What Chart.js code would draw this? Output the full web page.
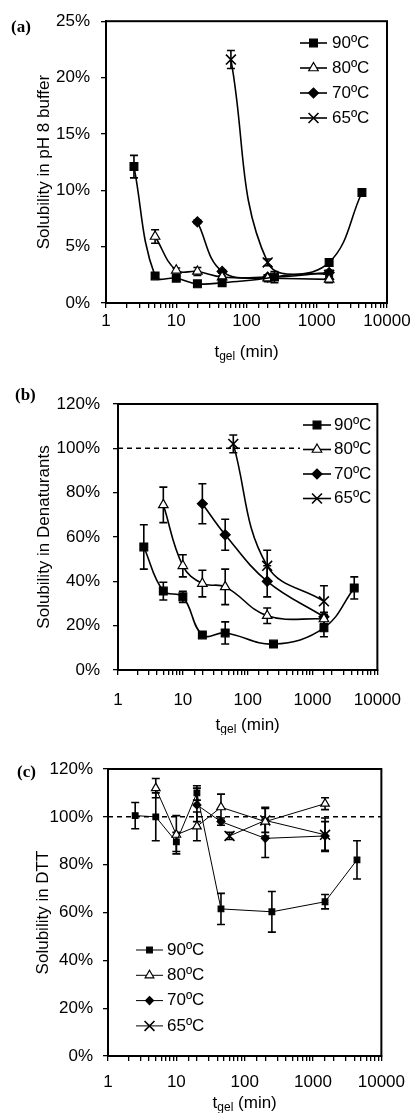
<!DOCTYPE html>
<html><head><meta charset="utf-8">
<script src="https://cdn.jsdelivr.net/npm/chart.js@4/dist/chart.umd.min.js"></script>
<style>
html,body{margin:0;padding:0;background:#fff;width:416px;height:1113px;overflow:hidden;}
.p{position:absolute;left:0;width:416px;}
canvas{display:block;}
</style></head><body>
<div class="p" style="top:0"><canvas id="ca" width="416" height="365"></canvas></div>
<div class="p" style="top:365px"><canvas id="cb" width="416" height="370"></canvas></div>
<div class="p" style="top:735px"><canvas id="cc" width="416" height="378"></canvas></div>
<script>
// ---------- DATA ----------
const seriesLabels = ['90ºC', '80ºC', '70ºC', '65ºC'];
const xTickLabels = [1, 10, 100, 1000, 10000];
const yTicksA = [0, 5, 10, 15, 20, 25];
const yTicksBC = [0, 20, 40, 60, 80, 100, 120];

// Panel (a): solubility in pH 8 buffer (%)
const a_t90 = [2.5, 5, 10, 20, 45, 250, 1500, 4400];
const a_s90 = [12.1, 2.4, 2.2, 1.7, 1.8, 2.3, 3.6, 9.8];
const a_e90 = [1.0, 0.2, 0.2, 0.15, 0.15, 0.5, 0.3, 0.15];
const a_t80 = [5, 10, 20, 45, 200, 1500];
const a_s80 = [5.9, 2.9, 2.8, 2.3, 2.2, 2.1];
const a_e80 = [0.6, 0.2, 0.35, 0.1, 0.3, 0.3];
const a_t70 = [20, 45, 200, 1500];
const a_s70 = [7.2, 2.8, 2.3, 2.7];
const a_e70 = [0.15, 0.15, 0.2, 0.2];
const a_t65 = [60, 200, 1500];
const a_s65 = [21.6, 3.6, 2.5];
const a_e65 = [0.8, 0.3, 0.2];

// Panel (b): solubility in denaturants (%)
const b_t90 = [2.5, 5, 10, 20, 45, 250, 1500, 4400];
const b_s90 = [55.5, 35.6, 33, 15.8, 16.7, 11.7, 19, 37];
const b_e90 = [10, 4, 2.5, 1, 5, 1, 4, 5];
const b_t80 = [5, 10, 20, 45, 200, 1500];
const b_s80 = [74.5, 47, 39, 37.5, 24.5, 23];
const b_e80 = [8, 5, 6, 8, 3.5, 2];
const b_t70 = [20, 45, 200, 1500];
const b_s70 = [75, 61, 40, 24];
const b_e70 = [9, 7, 7, 2];
const b_t65 = [60, 200, 1500];
const b_s65 = [102, 47, 31];
const b_e65 = [4, 7, 7];

// Panel (c): solubility in DTT (%)
const c_t90 = [2.5, 5, 10, 20, 45, 250, 1500, 4400];
const c_s90 = [100.5, 100, 89.5, 110, 61.5, 60.3, 64.5, 82];
const c_e90 = [5.5, 10, 4, 3, 6.5, 8.5, 3, 8];
const c_t80 = [5, 10, 20, 45, 200, 1500];
const c_s80 = [112, 92.5, 96, 104, 98, 105.5];
const c_e80 = [4, 8, 6, 5.5, 6, 2.5];
const c_t70 = [20, 45, 200, 1500];
const c_s70 = [105, 98, 91, 92];
const c_e70 = [7, 1.5, 8, 6];
const c_t65 = [60, 200, 1500];
const c_s65 = [92, 98.5, 92.5];
const c_e65 = [1.5, 5, 7];

const refLineX = [1, 10000];
const refLineY = [100, 100];

// ---------- BUILD ----------
const FONT = "Arial, 'Liberation Sans', sans-serif";
const FS = 17;
Chart.defaults.font.family = FONT;
Chart.defaults.font.size = FS;
Chart.defaults.color = '#000';

function pts(t, s) { return t.map((x, i) => ({ x: x, y: s[i] })); }

const styles = [
  { pointStyle: 'rect', bg: '#000' },
  { pointStyle: 'triangle', bg: '#fff' },
  { pointStyle: 'rectRot', bg: '#000' },
  { pointStyle: 'crossRot', bg: '#000' }
];

function makeSets(ts, ss, es, radii, lw, tension) {
  return ts.map((t, k) => ({
    label: seriesLabels[k],
    data: pts(t, ss[k]),
    errors: es[k],
    borderColor: '#000',
    backgroundColor: styles[k].bg,
    pointBackgroundColor: styles[k].bg,
    pointBorderColor: '#000',
    pointStyle: styles[k].pointStyle,
    pointRadius: radii[k],
    pointBorderWidth: k === 3 ? 1.6 : 1.2,
    borderWidth: lw,
    tension: tension,
    fill: false,
    order: k
  }));
}

const errPlugin = {
  id: 'errbars',
  beforeDatasetsDraw(chart) {
    const ctx = chart.ctx, xs = chart.scales.x, ys = chart.scales.y;
    ctx.save();
    ctx.strokeStyle = '#000';
    ctx.lineWidth = 1.6;
    chart.data.datasets.forEach(ds => {
      if (!ds.errors) return;
      ds.data.forEach((p, i) => {
        const e = ds.errors[i];
        const x = xs.getPixelForValue(p.x);
        const y1 = ys.getPixelForValue(p.y + e), y2 = ys.getPixelForValue(p.y - e);
        ctx.beginPath();
        ctx.moveTo(x, y1); ctx.lineTo(x, y2);
        ctx.moveTo(x - 4, y1); ctx.lineTo(x + 4, y1);
        ctx.moveTo(x - 4, y2); ctx.lineTo(x + 4, y2);
        ctx.stroke();
      });
    });
    ctx.restore();
  }
};

function decorPlugin(cfg) {
  return {
    id: 'decor',
    afterDraw(chart) {
      const ctx = chart.ctx, a = chart.chartArea;
      ctx.save();
      // legend (white box behind, kept inside the plot frame)
      ctx.fillStyle = '#fff';
      const bx = cfg.legX0 - 3, bw = Math.min(cfg.legTx + 50, a.right - 1) - bx;
      ctx.fillRect(bx, cfg.legY - 11, bw, 3 * cfg.legDy + 22);
      for (let k = 0; k < 4; k++) {
        const ds = chart.data.datasets[k];
        const y = cfg.legY + k * cfg.legDy;
        ctx.strokeStyle = '#000'; ctx.lineWidth = ds.borderWidth;
        ctx.beginPath(); ctx.moveTo(cfg.legX0, y); ctx.lineTo(cfg.legX1, y); ctx.stroke();
        ctx.fillStyle = ds.pointBackgroundColor; ctx.strokeStyle = '#000';
        ctx.lineWidth = ds.pointBorderWidth;
        Chart.helpers.drawPoint(ctx, { pointStyle: ds.pointStyle, radius: ds.pointRadius, rotation: 0, borderWidth: ds.pointBorderWidth }, (cfg.legX0 + cfg.legX1) / 2, y);
        ctx.fillStyle = '#000';
        ctx.font = FS + 'px ' + FONT; ctx.textAlign = 'left'; ctx.textBaseline = 'middle';
        ctx.fillText(ds.label, cfg.legTx, y);
      }
      // box
      ctx.strokeStyle = '#000'; ctx.lineWidth = 2;
      ctx.strokeRect(a.left, a.top, a.right - a.left, a.bottom - a.top);
      // panel label
      ctx.fillStyle = '#000';
      ctx.font = "bold 17px 'Liberation Serif', 'Times New Roman', serif";
      ctx.textAlign = 'left'; ctx.textBaseline = 'middle';
      ctx.fillText(cfg.panel, cfg.panelX, cfg.panelY);
      // y title
      ctx.font = FS + 'px ' + FONT;
      ctx.save();
      ctx.translate(cfg.yTitleX, (a.top + a.bottom) / 2);
      ctx.rotate(-Math.PI / 2);
      ctx.textAlign = 'center'; ctx.textBaseline = 'middle';
      ctx.fillText(cfg.yTitle, 0, 0);
      ctx.restore();
      // x title with subscript
      const cx = (a.left + a.right) / 2, ty = cfg.xTitleY;
      ctx.font = FS + 'px ' + FONT;
      const w1 = ctx.measureText('t').width, w3 = ctx.measureText(' (min)').width;
      ctx.font = '12px ' + FONT;
      const w2 = ctx.measureText('gel').width;
      let x0 = cx - (w1 + w2 + w3) / 2;
      ctx.textAlign = 'left'; ctx.textBaseline = 'middle';
      ctx.font = FS + 'px ' + FONT; ctx.fillText('t', x0, ty);
      ctx.font = '12px ' + FONT; ctx.fillText('gel', x0 + w1, ty + 5);
      ctx.font = FS + 'px ' + FONT; ctx.fillText(' (min)', x0 + w1 + w2, ty);
      ctx.restore();
    }
  };
}

function makeChart(id, cfg) {
  const H = document.getElementById(id).height;
  const datasets = cfg.sets.slice();
  if (cfg.ref) {
    datasets.push({ data: pts(refLineX, refLineY), borderColor: '#000', borderWidth: 1.5,
      borderDash: [5, 4], pointRadius: 0, fill: false, order: 10 });
  }
  return new Chart(document.getElementById(id), {
    type: 'line',
    data: { datasets: datasets },
    options: {
      responsive: false, animation: false,
      layout: { padding: { top: cfg.plotTop, right: 416 - cfg.plotRight, left: 0, bottom: 0 } },
      plugins: { legend: { display: false }, tooltip: { enabled: false } },
      scales: {
        x: {
          type: 'logarithmic', min: xTickLabels[0], max: xTickLabels[xTickLabels.length - 1],
          grid: { drawOnChartArea: false, drawTicks: true, tickLength: 5, color: '#000', lineWidth: 1.3 },
          border: { display: true, color: '#000', width: 2 },
          ticks: {
            autoSkip: false, maxRotation: 0, padding: cfg.xPad, color: '#000', font: { size: FS },
            callback: (v) => xTickLabels.includes(Math.round(v)) && Math.abs(Math.round(v) - v) < 1e-6 ? String(Math.round(v)) : ''
          },
          afterFit: (s) => { s.height = H - cfg.plotBottom; }
        },
        y: {
          min: cfg.yTicks[0], max: cfg.yTicks[cfg.yTicks.length - 1],
          grid: { drawOnChartArea: false, drawTicks: true, tickLength: 5, color: '#000', lineWidth: 1.3 },
          border: { display: true, color: '#000', width: 2 },
          afterBuildTicks: (s) => { s.ticks = cfg.yTicks.map(v => ({ value: v })); },
          ticks: { padding: cfg.yPad, color: '#000', font: { size: FS }, callback: (v) => v + '%' },
          afterFit: (s) => { s.width = cfg.plotLeft; }
        }
      }
    },
    plugins: [errPlugin, decorPlugin(cfg)]
  });
}

makeChart('ca', {
  sets: makeSets([a_t90, a_t80, a_t70, a_t65], [a_s90, a_s80, a_s70, a_s65], [a_e90, a_e80, a_e70, a_e65], [5.5, 5.5, 5, 7], 1.6, 0.4),
  yTicks: yTicksA, plotTop: 18, plotBottom: 303, plotLeft: 106, plotRight: 387,
  xPad: 3, yPad: 11, panel: '(a)', panelX: 11, panelY: 28, yTitle: 'Solubility in pH 8 buffer', yTitleX: 44,
  xTitleY: 352, legY: 43, legDy: 25, legX0: 300, legX1: 327, legTx: 332, ref: false
});
makeChart('cb', {
  sets: makeSets([b_t90, b_t80, b_t70, b_t65], [b_s90, b_s80, b_s70, b_s65], [b_e90, b_e80, b_e70, b_e65], [5.5, 5.5, 5, 7], 1.6, 0.4),
  yTicks: yTicksBC, plotTop: 39, plotBottom: 305, plotLeft: 118, plotRight: 386,
  xPad: 15, yPad: 13, panel: '(b)', panelX: 15, panelY: 31, yTitle: 'Solubility in Denaturants', yTitleX: 44,
  xTitleY: 360, legY: 60, legDy: 24.5, legX0: 303, legX1: 331, legTx: 334, ref: true
});
makeChart('cc', {
  sets: makeSets([c_t90, c_t80, c_t70, c_t65], [c_s90, c_s80, c_s70, c_s65], [c_e90, c_e80, c_e70, c_e65], [4, 5, 4, 7], 1, 0),
  yTicks: yTicksBC, plotTop: 34, plotBottom: 321, plotLeft: 108, plotRight: 388,
  xPad: 11, yPad: 10, panel: '(c)', panelX: 17, panelY: 38, yTitle: 'Solubility in DTT', yTitleX: 43,
  xTitleY: 368, legY: 215, legDy: 25.3, legX0: 136, legX1: 163, legTx: 167, ref: true
});
</script>
</body></html>
